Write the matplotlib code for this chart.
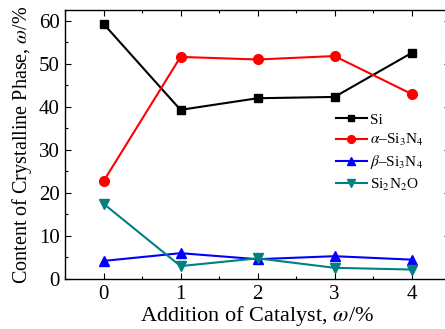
import matplotlib
matplotlib.use("Agg")
import matplotlib.pyplot as plt
from matplotlib.ticker import MultipleLocator

plt.rcParams["font.family"] = ["Liberation Serif", "DejaVu Serif"]
plt.rcParams["mathtext.fontset"] = "stix"

# catalyst addition, wt%
catalyst = [0, 1, 2, 3, 4]
# crystalline phase content, %
si = [59.3, 39.3, 42.0, 42.3, 52.5]
alpha_si3n4 = [22.7, 51.6, 51.0, 51.8, 43.0]
beta_si3n4 = [4.2, 6.0, 4.6, 5.3, 4.5]
si2n2o = [17.5, 3.0, 4.8, 2.6, 2.2]

fig = plt.figure(figsize=(4.45, 3.29), dpi=100)
# right spine sits just past the image edge in the original
ax = fig.add_axes([65 / 445, 1 - 279 / 329, 385 / 445, 269 / 329])

ax.plot(catalyst, si, "-s", color="black", lw=1.5, ms=6, label="Si")
ax.plot(catalyst, alpha_si3n4, "-o", color="red", lw=1.5, ms=7,
        label=r"$\alpha$–Si$_3$N$_4$")
ax.plot(catalyst, beta_si3n4, "-^", color="blue", lw=1.5, ms=7,
        label=r"$\beta$–Si$_3$N$_4$")
ax.plot(catalyst, si2n2o, "-v", color="#008080", lw=1.5, ms=7,
        label="Si$_2$N$_2$O")

ax.set_xlim(-0.5, 4.5)
ax.set_ylim(0, 62.5)
ax.xaxis.set_major_locator(MultipleLocator(1))
ax.xaxis.set_minor_locator(MultipleLocator(0.5))
ax.yaxis.set_major_locator(MultipleLocator(10))
ax.yaxis.set_minor_locator(MultipleLocator(5))
ax.tick_params(which="both", direction="in", top=True, right=True,
               labelsize=15, width=0.8)
ax.tick_params(which="major", length=4, pad=4)
ax.tick_params(which="minor", length=2.5)
for s in ax.spines.values():
    s.set_linewidth(1.0)

ax.set_xlabel(r"Addition of Catalyst, $\omega$/%", fontsize=16, labelpad=0)
ax.set_ylabel(r"Content of Crystalline Phase, $\omega$/%", fontsize=14.5,
              labelpad=3)

ax.legend(loc="upper left", bbox_to_anchor=(265 / 385, 0.64), frameon=False,
          fontsize=11, handlelength=2.0, handletextpad=0.25, labelspacing=0.35,
          markerscale=0.8, borderaxespad=0)

fig.savefig("out.png", dpi=100)
